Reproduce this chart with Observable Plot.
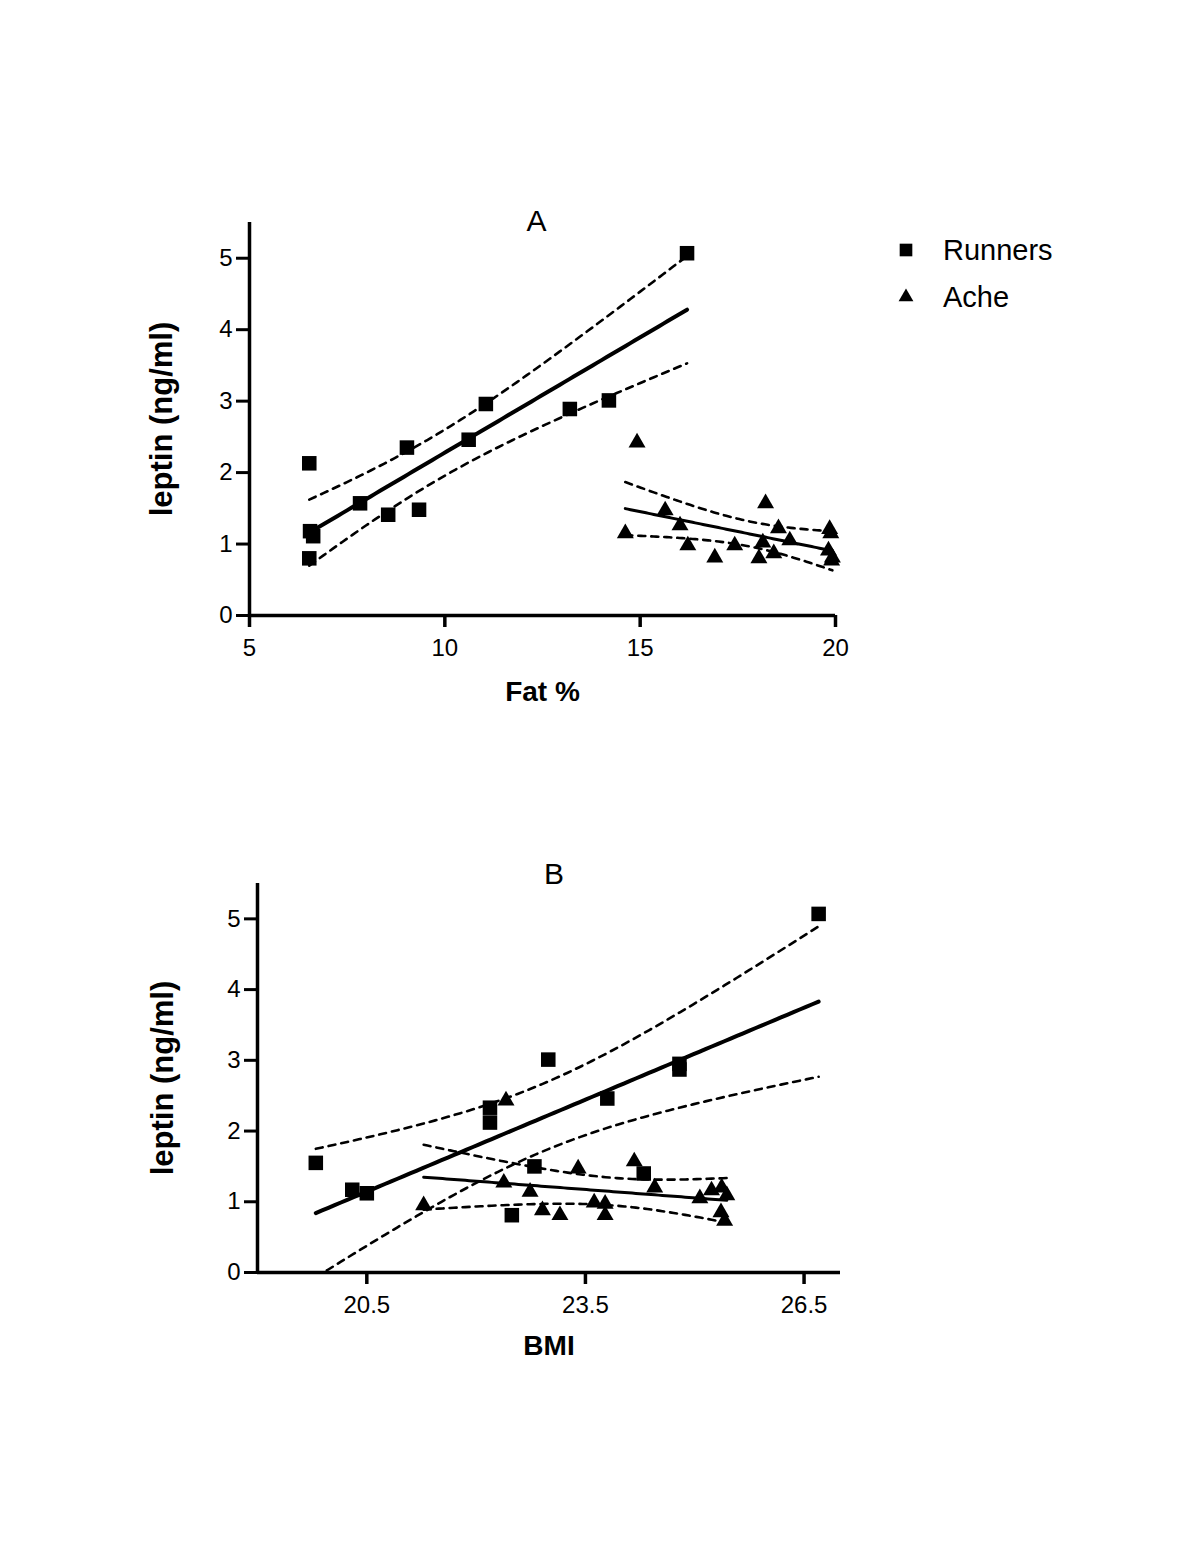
<!DOCTYPE html>
<html>
<head>
<meta charset="utf-8">
<script src="https://cdn.jsdelivr.net/npm/d3@7"></script>
<script src="https://cdn.jsdelivr.net/npm/@observablehq/plot@0.6"></script>
<style>
  body { margin: 0; background: #fff; }
  #root { position: relative; width: 1200px; height: 1553px; background: #fff; font-family: Arial, "Liberation Sans", sans-serif; }
  .panel { position: absolute; left: 0; }
  #legend { position: absolute; left: 880px; top: 225px; }
</style>
</head>
<body>
<div id="root"></div>
<script>
// ---------------- data ----------------
const groups = ["Runners", "Ache"];

// Panel A: leptin vs Fat %
const fatRunnersX = [6.53, 6.55, 6.63, 6.53, 7.83, 8.55, 9.03, 9.34, 10.61, 11.05, 13.2, 14.2, 16.2];
const fatRunnersY = [2.13, 1.18, 1.11, 0.80, 1.57, 1.41, 2.35, 1.48, 2.46, 2.96, 2.89, 3.01, 5.07];
const fatAcheX = [14.92, 14.62, 15.64, 16.02, 16.22, 16.91, 17.42, 18.21, 18.54, 18.14, 18.83, 18.42, 18.04, 19.85, 19.88, 19.82, 19.92, 19.9];
const fatAcheY = [2.42, 1.15, 1.47, 1.26, 0.98, 0.81, 0.98, 1.57, 1.22, 1.02, 1.05, 0.87, 0.80, 1.21, 1.15, 0.91, 0.81, 0.77];

// Panel B: leptin vs BMI
const bmiRunnersX = [19.8, 20.3, 20.5, 22.19, 22.19, 22.99, 22.8, 22.49, 23.8, 24.3, 24.79, 24.79, 26.7];
const bmiRunnersY = [1.55, 1.17, 1.12, 2.33, 2.12, 3.01, 1.50, 0.81, 2.46, 1.40, 2.95, 2.87, 5.07];
const bmiAcheX = [22.41, 22.38, 22.74, 23.40, 24.17, 24.45, 22.91, 23.15, 23.62, 23.77, 23.77, 21.28, 25.07, 25.23, 25.37, 25.44, 25.36, 25.41];
const bmiAcheY = [2.43, 1.27, 1.14, 1.47, 1.57, 1.20, 0.88, 0.81, 0.99, 0.97, 0.81, 0.95, 1.05, 1.16, 1.20, 1.09, 0.85, 0.73];

const fatTicks = [5, 10, 15, 20];
const bmiTicks = [20.5, 23.5, 26.5];
const leptinTicks = [0, 1, 2, 3, 4, 5];

// two-tailed 95% Student t critical values by degrees of freedom
const T95 = {9: 2.262, 10: 2.228, 11: 2.201, 12: 2.179, 13: 2.160, 14: 2.145, 15: 2.131, 16: 2.120, 17: 2.110, 18: 2.101};

// ---------------- helpers ----------------
function points(xs, ys, group) {
  return xs.map((x, i) => ({group, x, y: ys[i]}));
}
// least-squares fit with 95% confidence band of the fitted line
function fitBand(xs, ys, group) {
  const n = xs.length, mx = d3.mean(xs), my = d3.mean(ys);
  const sxx = d3.sum(xs, x => (x - mx) ** 2);
  const sxy = d3.sum(xs.map((x, i) => (x - mx) * (ys[i] - my)));
  const b = sxy / sxx, a = my - b * mx;
  const sse = d3.sum(xs.map((x, i) => (ys[i] - a - b * x) ** 2));
  const s = Math.sqrt(sse / (n - 2));
  const t = T95[n - 2];
  const [x0, x1] = d3.extent(xs);
  return d3.range(0, 81).map(k => {
    const x = x0 + (x1 - x0) * k / 80;
    const yh = a + b * x;
    const se = s * Math.sqrt(1 / n + (x - mx) ** 2 / sxx);
    return {group, x, fit: yh, lo: yh - t * se, hi: yh + t * se};
  });
}

function panel(o) {
  const runners = points(o.runX, o.runY, groups[0]);
  const ache = points(o.acheX, o.acheY, groups[1]);
  const bandR = fitBand(o.runX, o.runY, groups[0]);
  const bandA = fitBand(o.acheX, o.acheY, groups[1]);
  const bands = bandR.concat(bandA);
  return Plot.plot({
    width: o.width, height: o.height,
    marginLeft: o.marginLeft, marginRight: o.marginRight,
    marginTop: o.marginTop, marginBottom: o.marginBottom,
    style: {background: "#fff", color: "#000", fontFamily: "Arial, 'Liberation Sans', sans-serif", overflow: "visible"},
    x: {domain: o.xDomain},
    y: {domain: [0, 5.5]},
    marks: [
      Plot.axisX({ticks: o.xTicks, tickSize: 12, strokeWidth: 3.5, fontSize: 24, tickPadding: 11, label: null, tickFormat: d => String(d)}),
      Plot.axisY({ticks: leptinTicks, tickSize: 13, strokeWidth: 3, fontSize: 24, tickPadding: 4, label: null, tickFormat: d => String(d)}),
      Plot.ruleY([0], {stroke: "#000", strokeWidth: 3.5}),
      Plot.ruleX([o.xDomain[0]], {stroke: "#000", strokeWidth: 3.5}),
      Plot.line(bands, {x: "x", y: "hi", z: "group", stroke: "#000", strokeWidth: 2.6, strokeDasharray: "7,6", clip: true}),
      Plot.line(bands, {x: "x", y: "lo", z: "group", stroke: "#000", strokeWidth: 2.6, strokeDasharray: "7,6", clip: true}),
      Plot.line(bandR, {x: "x", y: "fit", stroke: "#000", strokeWidth: 4, clip: true}),
      Plot.line(bandA, {x: "x", y: "fit", stroke: "#000", strokeWidth: 3, clip: true}),
      Plot.dot(runners, {x: "x", y: "y", symbol: "square", r: 8.2, fill: "#000", stroke: "none"}),
      Plot.dot(ache, {x: "x", y: "y", symbol: "triangle", r: 6.3, fill: "#000", stroke: "none"}),
      Plot.text([o.title], {frameAnchor: "top", dx: o.titleDx, dy: o.titleDy, fontSize: 30, fill: "#000"}),
      Plot.text([o.xLabel], {frameAnchor: "bottom", dy: o.xLabelDy, fontSize: 28, fontWeight: "bold", fill: "#000"}),
      Plot.text(["leptin (ng/ml)"], {frameAnchor: "left", textAnchor: "middle", dx: o.yLabelDx, rotate: -90, fontSize: 31, fontWeight: "bold", fill: "#000"})
    ]
  });
}

const root = document.getElementById("root");

const plotA = panel({
  runX: fatRunnersX, runY: fatRunnersY, acheX: fatAcheX, acheY: fatAcheY,
  xDomain: [5, 20], xTicks: fatTicks, xLabel: "Fat %", title: "A",
  width: 900, height: 600, marginLeft: 249, marginRight: 65, marginTop: 72, marginBottom: 135,
  titleDx: -6, titleDy: -13, xLabelDy: 85, yLabelDx: -87
});
plotA.classList.add("panel");
plotA.style.top = "150px";
root.appendChild(plotA);

const plotB = panel({
  runX: bmiRunnersX, runY: bmiRunnersY, acheX: bmiAcheX, acheY: bmiAcheY,
  xDomain: [19, 27], xTicks: bmiTicks, xLabel: "BMI", title: "B",
  width: 900, height: 600, marginLeft: 257, marginRight: 60, marginTop: 63, marginBottom: 148,
  titleDx: 5, titleDy: -21, xLabelDy: 82, yLabelDx: -94
});
plotB.classList.add("panel");
plotB.style.top = "820px";
root.appendChild(plotB);

// legend
const leg = d3.select(root).append("svg").attr("id", "legend").attr("width", 300).attr("height", 110);
const legSymbols = [d3.symbolSquare, d3.symbolTriangle];
const legSizes = [160, 95];
groups.forEach((g, i) => {
  const cy = 25 + i * 47;
  leg.append("path").attr("transform", `translate(26,${cy})`)
    .attr("d", d3.symbol(legSymbols[i], legSizes[i])()).attr("fill", "#000");
  leg.append("text").attr("x", 63).attr("y", cy + 10)
    .attr("font-size", 29).attr("font-family", "Arial, 'Liberation Sans', sans-serif").attr("fill", "#000")
    .text(g);
});
</script>
</body>
</html>
